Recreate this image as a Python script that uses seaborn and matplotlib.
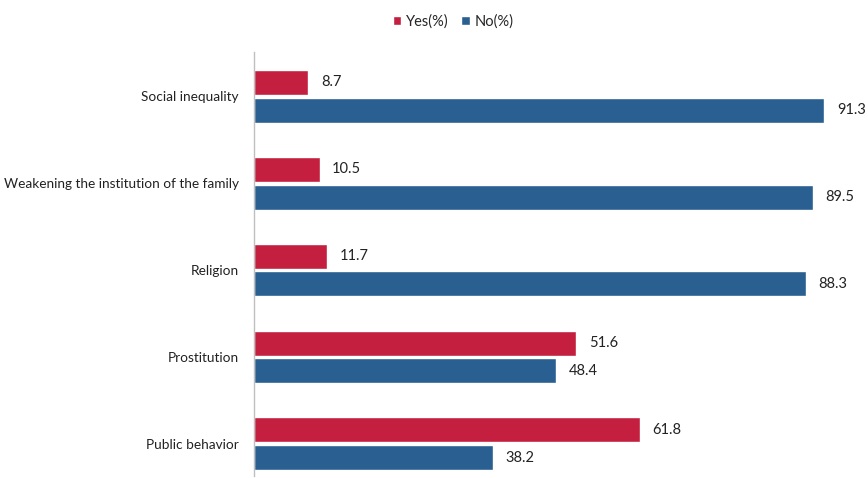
import matplotlib
matplotlib.use("Agg")
import matplotlib.pyplot as plt
import seaborn as sns
import pandas as pd

# ─── Data ────────────────────────────────────────────────────────────────────
categories = ["Social inequality", "Weakening the institution of the family",
              "Religion", "Prostitution", "Public behavior"]
yes_pct = [8.7, 10.5, 11.7, 51.6, 61.8]
no_pct  = [91.3, 89.5, 88.3, 48.4, 38.2]
series  = ["Yes(%)", "No(%)"]
colors  = ["#C41F3E", "#295F91"]

df = pd.DataFrame({
    "category": categories * 2,
    "value":    yes_pct + no_pct,
    "series":   [series[0]] * len(categories) + [series[1]] * len(categories),
})

sns.set_theme(style="white")
plt.rcParams["font.family"] = ["Lato", "DejaVu Sans"]

fig = plt.figure(figsize=(8.68, 4.78), dpi=100)
ax = fig.add_axes([254 / 868, 2 / 478, 606 / 868, 424 / 478])

sns.barplot(data=df, x="value", y="category", hue="series", order=categories,
            hue_order=series, palette=colors, orient="h", width=0.64, gap=0.1,
            saturation=1, ax=ax, legend=True)

for cont in ax.containers:
    ax.bar_label(cont, fmt="%.1f", padding=9, fontsize=10.5, color="#222222")

ax.set_xlim(0, 97)
ax.set_ylim(4.37, -0.51)
ax.set_xlabel("")
ax.set_ylabel("")
ax.set_xticks([])
ax.tick_params(axis="y", length=0, pad=11, labelsize=9.8, labelcolor="#222222")
for s in ["top", "right", "bottom"]:
    ax.spines[s].set_visible(False)
ax.spines["left"].set_color("#BFBFBF")
ax.spines["left"].set_linewidth(1)

leg = ax.legend(loc="upper center", bbox_to_anchor=(453 / 868, 477 / 478),
                bbox_transform=fig.transFigure, ncol=2, frameon=False,
                fontsize=10.5, handlelength=0.6, handleheight=0.6,
                handletextpad=0.3, columnspacing=0.9)

fig.savefig("out.png", dpi=100)
plt.close(fig)
